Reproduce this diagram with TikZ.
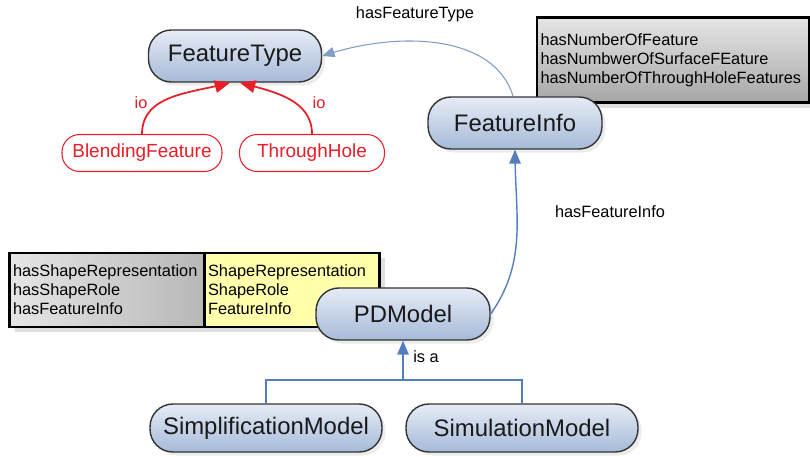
\documentclass[tikz,border=0pt]{standalone}
\usepackage{fontspec}
\setmainfont{Liberation Sans}
\usetikzlibrary{arrows,shadows}

\definecolor{conceptTop}{RGB}{230,236,246}
\definecolor{conceptBot}{RGB}{166,186,216}
\definecolor{linkBlue}{RGB}{84,126,190}
\definecolor{linkPale}{RGB}{128,156,200}
\definecolor{instRed}{RGB}{232,30,40}
\definecolor{slotYellow}{RGB}{255,255,172}

\begin{document}
\begin{tikzpicture}[x=0.02cm,y=-0.02cm,>=triangle 45]
    \tikzstyle{concept}=[rectangle,rounded corners=13pt,draw=black!80,line width=0.8pt,
        top color=conceptTop,bottom color=conceptBot,minimum height=1.04cm,inner sep=0pt,
        text=black!90,font=\fontsize{13.6}{16}\selectfont,
        drop shadow={shadow xshift=2pt,shadow yshift=-2pt,opacity=.15}]
    \tikzstyle{instance}=[rectangle,rounded corners=10pt,draw=instRed,line width=0.6pt,
        fill=white,minimum height=0.74cm,inner sep=0pt,text=instRed,
        font=\fontsize{10.8}{13}\selectfont]
    \tikzstyle{slotbox}=[rectangle,draw=black,line width=1.4pt,minimum height=1.48cm,
        inner sep=2pt,align=left,font=\fontsize{9.3}{10.8}\selectfont,
        drop shadow={shadow xshift=3pt,shadow yshift=-3pt,opacity=.25}]
    \tikzstyle{link}=[draw=linkBlue,line width=0.8pt]
    \tikzstyle{annot}=[inner sep=0pt,font=\fontsize{9.3}{11}\selectfont]

    \useasboundingbox (0,0) rectangle (810,456);

    % Draw the slot boxes
    \node[slotbox,left color=black!10,right color=black!28,text width=3.76cm] (slots) at (107,290)
        {hasShapeRepresentation\\hasShapeRole\\hasFeatureInfo};
    \node[slotbox,fill=slotYellow,text width=3.36cm] (ranges) at (292,290)
        {ShapeRepresentation\\ShapeRole\\FeatureInfo};
    \node[slotbox,top color=black!10,bottom color=black!35,text width=5.3cm,minimum height=1.7cm] (counts) at (673,60)
        {hasNumberOfFeature\\hasNumbwerOfSurfaceFEature\\hasNumberOfThroughHoleFeatures};

    % Draw the concept nodes
    \node[concept,minimum width=3.46cm] (FT) at (235,56) {FeatureType};
    \node[concept,minimum width=3.48cm] (FI) at (515,123) {FeatureInfo};
    \node[concept,minimum width=3.48cm] (PD) at (403,314) {PDModel};
    \foreach \name / \x / \txt in {1/266/SimplificationModel,2/522/SimulationModel}
        \node[concept,minimum width=4.64cm,minimum height=0.96cm] (M-\name) at (\x,428) {\txt};

    % Draw the instance nodes
    \node[instance,minimum width=3.2cm] (BF) at (142,153) {BlendingFeature};
    \node[instance,minimum width=2.9cm] (TH) at (312,153) {ThroughHole};

    % Instances point to their type
    \draw[->,draw=instRed,line width=1pt] (BF.north) to[out=90,in=195] ([xshift=-0.1cm]FT.south);
    \draw[->,draw=instRed,line width=1pt] (TH.north) to[out=90,in=-15] ([xshift=0.1cm]FT.south);
    \node[annot,text=instRed] at (141,103) {io};
    \node[annot,text=instRed] at (319,103) {io};

    % Object properties
    \draw[->,draw=linkPale,line width=0.6pt] ([xshift=-0.04cm]FI.north) .. controls (495,35) and (400,30) .. (FT.east);
    \node[annot] at (415,14) {hasFeatureType};
    \draw[->,link] (PD.east) to[out=55,in=-90] (FI.south);
    \node[annot] at (610,212) {hasFeatureInfo};

    % Subclasses of the model
    \coordinate (isa) at (403,380);
    \foreach \name in {1,2}
        \draw[link] (isa) -| (M-\name.north);
    \draw[->,link] (isa) -- (PD.south);
    \node[annot,anchor=west] at (413,357) {is a};

\end{tikzpicture}
\end{document}
